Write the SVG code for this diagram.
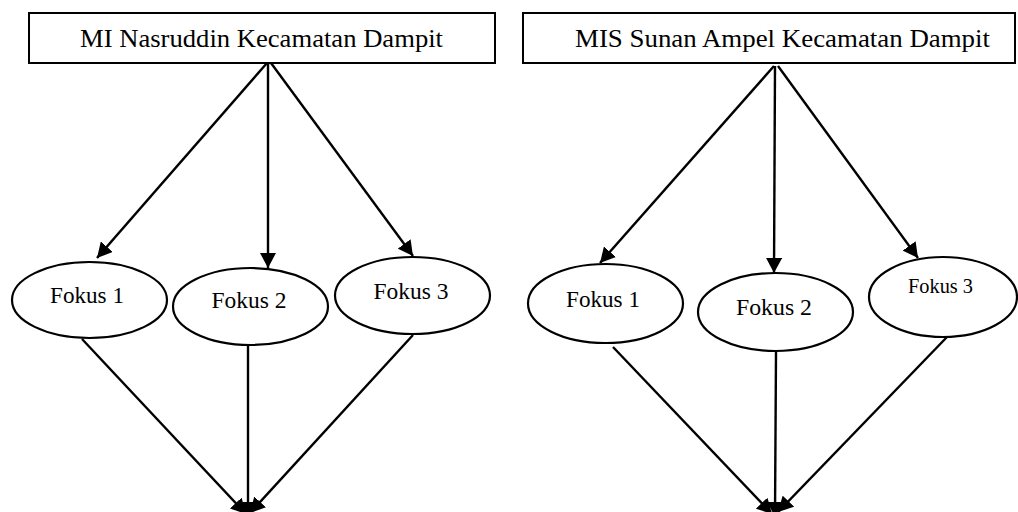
<svg xmlns="http://www.w3.org/2000/svg" width="1018" height="512" viewBox="0 0 1018 512">
<style>
.box{fill:#fff;stroke:#000;stroke-width:2}
.ell{fill:#fff;stroke:#000;stroke-width:2.2}
.t{font-family:"Liberation Serif","Times New Roman",serif;fill:#000;text-anchor:middle}
.title{font-size:25px}
.fk{font-size:23px}
.fks{font-size:21px}
.c{stroke:#000;stroke-width:2.4;fill:none;marker-end:url(#ah)}
</style>
<defs>
<marker id="ah" markerUnits="userSpaceOnUse" markerWidth="16" markerHeight="16" refX="15" refY="8" orient="auto">
<path d="M0,0 L15,8 L0,16 Z" fill="#000"/>
</marker>
</defs>
<rect width="1018" height="512" fill="#fff"/>
<g id="connectors">
<line class="c" x1="267" y1="63" x2="97" y2="258"/>
<line class="c" x1="268" y1="63" x2="268" y2="268"/>
<line class="c" x1="271" y1="63" x2="413" y2="256"/>
<line class="c" x1="774" y1="66" x2="600" y2="263"/>
<line class="c" x1="775" y1="66" x2="774" y2="273"/>
<line class="c" x1="778" y1="66" x2="918" y2="258"/>
<line class="c" x1="82" y1="339" x2="246" y2="514"/>
<line class="c" x1="248" y1="345" x2="248" y2="517"/>
<line class="c" x1="413" y1="335" x2="250" y2="513"/>
<line class="c" x1="613" y1="347" x2="772" y2="514"/>
<line class="c" x1="776" y1="352" x2="775" y2="517"/>
<line class="c" x1="947" y1="337" x2="778" y2="512"/>
</g>
<g id="node-mi-nasruddin">
<rect class="box" x="29" y="13" width="466" height="50"/>
<text class="t title" x="261.5" y="47" textLength="363" lengthAdjust="spacingAndGlyphs">MI Nasruddin Kecamatan Dampit</text>
</g>
<g id="node-mis-sunan-ampel">
<rect class="box" x="523" y="13" width="492" height="50"/>
<text class="t title" x="782.5" y="47" textLength="415" lengthAdjust="spacingAndGlyphs">MIS Sunan Ampel Kecamatan Dampit</text>
</g>
<g id="node-l-fokus1">
<ellipse class="ell" cx="89.5" cy="300" rx="77.5" ry="38"/>
<text class="t fk" x="87" y="303" textLength="74" lengthAdjust="spacingAndGlyphs">Fokus 1</text>
</g>
<g id="node-l-fokus2">
<ellipse class="ell" cx="250.5" cy="306.5" rx="77.5" ry="38.5"/>
<text class="t fk" x="249" y="308" textLength="75" lengthAdjust="spacingAndGlyphs">Fokus 2</text>
</g>
<g id="node-l-fokus3">
<ellipse class="ell" cx="412.5" cy="295.5" rx="77.5" ry="38.5"/>
<text class="t fk" x="411" y="299" textLength="75" lengthAdjust="spacingAndGlyphs">Fokus 3</text>
</g>
<g id="node-r-fokus1">
<ellipse class="ell" cx="605.5" cy="303.5" rx="77.5" ry="39.5"/>
<text class="t fk" x="603" y="307" textLength="74" lengthAdjust="spacingAndGlyphs">Fokus 1</text>
</g>
<g id="node-r-fokus2">
<ellipse class="ell" cx="775.5" cy="312" rx="77.5" ry="39"/>
<text class="t fk" x="774" y="315" textLength="76" lengthAdjust="spacingAndGlyphs">Fokus 2</text>
</g>
<g id="node-r-fokus3">
<ellipse class="ell" cx="943" cy="297" rx="74" ry="40"/>
<text class="t fks" x="940.5" y="293" textLength="65" lengthAdjust="spacingAndGlyphs">Fokus 3</text>
</g>
</svg>
